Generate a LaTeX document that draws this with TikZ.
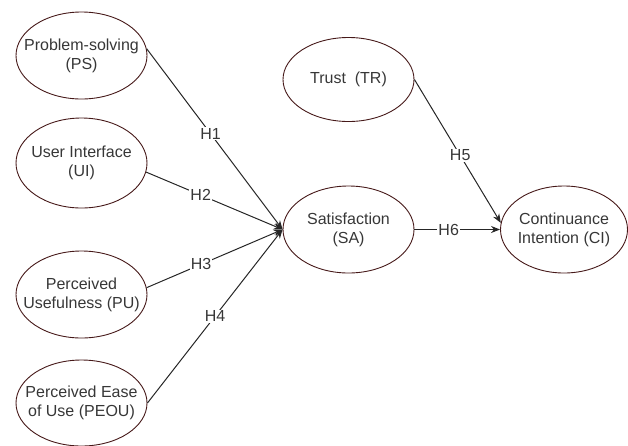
\documentclass[tikz,border=0pt]{standalone}
\usepackage{fontspec}
\setmainfont{Liberation Sans}
\usetikzlibrary{shapes.geometric,arrows.meta}
\definecolor{rim}{RGB}{70,25,25}
\definecolor{txt}{RGB}{55,55,55}
\tikzset{
  construct/.style={ellipse, draw=rim, line width=0.9pt, minimum width=131pt, minimum height=87pt,
    inner sep=0pt},
  lbl/.style={align=center, text=txt, inner sep=0pt, font=\fontsize{16}{19}\selectfont},
  path/.style={draw=black!85, line width=1pt, -{Stealth[length=9pt,width=7pt]}},
  hyp/.style={fill=white, inner sep=1pt, text=txt, font=\fontsize{16}{19}\selectfont}
}
\begin{document}
\begin{tikzpicture}[x=1pt,y=-1pt]
\useasboundingbox (0,0) rectangle (628,445);
\node[construct] (ps) at (81.5,55.5) {};
\node[construct, minimum height=90pt] (ui) at (81.5,163) {};
\node[construct] (pu) at (81.5,294.5) {};
\node[construct, minimum height=86pt] (peou) at (81.5,403) {};
\node[construct, minimum height=84pt] (tr) at (348.5,79.5) {};
\node[construct] (sa) at (348.5,229.5) {};
\node[construct, minimum width=127pt] (ci) at (564,229.5) {};
\node[lbl] (pst) at (ps) {Problem-solving\\(PS)};
\node[lbl] (uit) at (ui) {User Interface\\(UI)};
\node[lbl] (put) at (pu) {Perceived\\Usefulness (PU)};
\node[lbl] (peout) at (peou) {Perceived Ease\\of Use (PEOU)};
\node[lbl] (trt) at (tr) {Trust\ \ (TR)};
\node[lbl] (sat) at (sa) {Satisfaction\\(SA)};
\node[lbl] (cit) at (ci) {Continuance\\Intention (CI)};
\draw[path] (ps.6) -- node[hyp, pos=0.47] {H1} (sa.west);
\draw[path] (ui.-8) -- node[hyp, pos=0.4] {H2} (sa.west);
\draw[path] (pu.6) -- node[hyp, pos=0.4] {H3} (sa.west);
\draw[path] (peou.east) -- node[hyp, pos=0.5] {H4} (sa.west);
\draw[path] (tr.east) -- node[hyp, pos=0.53] {H5} (ci.174);
\draw[path] (sa.east) -- node[hyp, pos=0.4] {H6} (ci.west);
\end{tikzpicture}
\end{document}
